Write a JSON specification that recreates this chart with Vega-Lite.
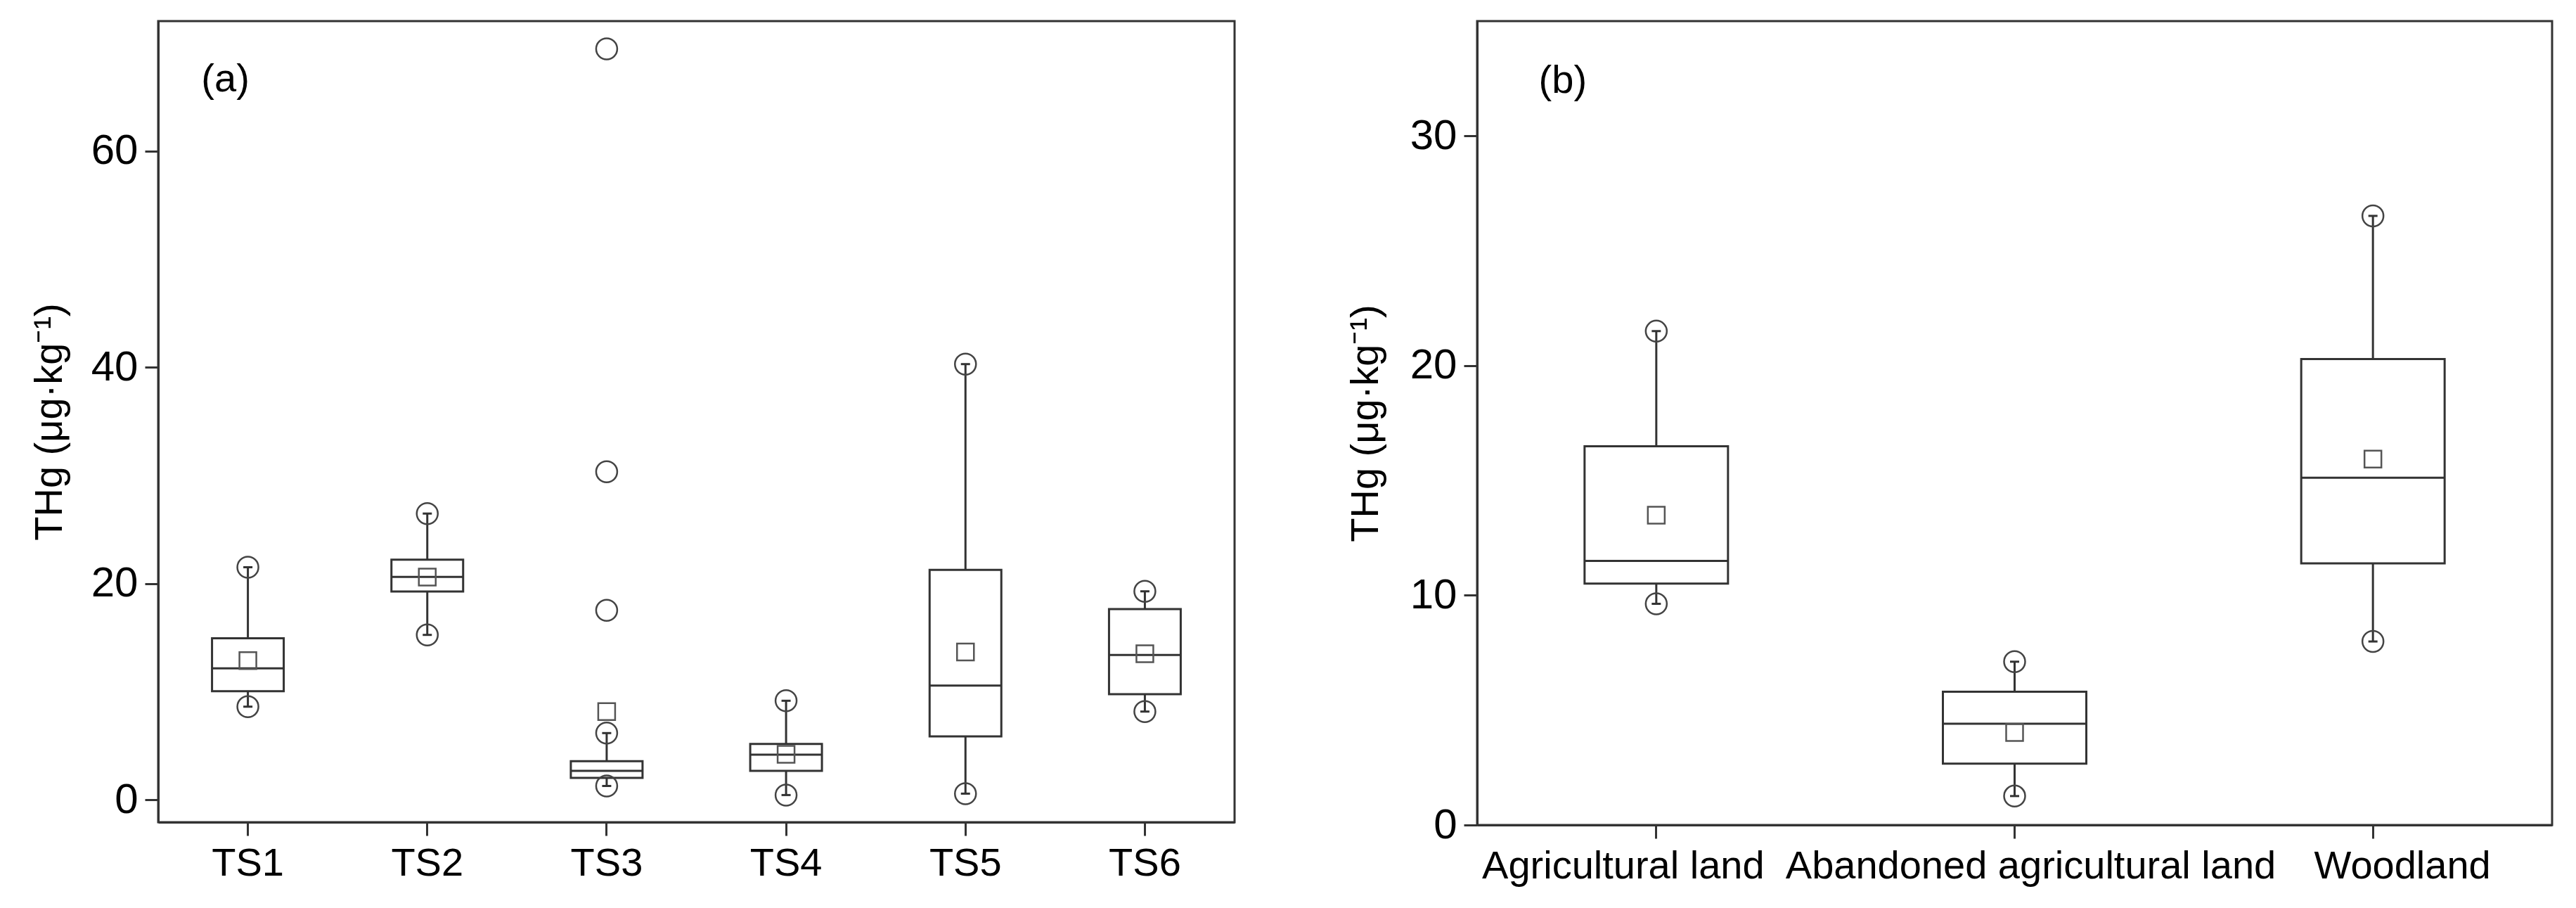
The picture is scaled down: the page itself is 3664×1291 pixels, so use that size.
{
  "$schema": "https://vega.github.io/schema/vega-lite/v6.json",
  "padding": {"left": 40, "top": 28, "right": 0, "bottom": 0},
  "background": "white",
  "spacing": 154,
  "config": {
    "view": {"stroke": "#333", "strokeWidth": 3},
    "font": "Liberation Sans",
    "axis": {
      "grid": false,
      "domainColor": "#333",
      "domainWidth": 3,
      "tickColor": "#333",
      "tickWidth": 3,
      "tickSize": 19,
      "labelFont": "Liberation Sans",
      "labelColor": "black",
      "labelLimit": 0,
      "titleFont": "Liberation Sans",
      "titleColor": "black",
      "titleFontWeight": "normal"
    }
  },
  "datasets": {
    "a": [
      {"cat": "TS1", "min": 8.6, "q1": 10.04, "median": 12.15, "q3": 14.92, "max": 21.5, "mean": 12.86},
      {"cat": "TS2", "min": 15.24, "q1": 19.26, "median": 20.6, "q3": 22.19, "max": 26.46, "mean": 20.59},
      {"cat": "TS3", "min": 1.27, "q1": 2.02, "median": 2.67, "q3": 3.57, "max": 6.16, "mean": 8.15},
      {"cat": "TS4", "min": 0.43, "q1": 2.67, "median": 4.16, "q3": 5.16, "max": 9.15, "mean": 4.2},
      {"cat": "TS5", "min": 0.56, "q1": 5.86, "median": 10.56, "q3": 21.26, "max": 40.28, "mean": 13.66},
      {"cat": "TS6", "min": 8.15, "q1": 9.76, "median": 13.39, "q3": 17.62, "max": 19.27, "mean": 13.5}
    ],
    "a_out": [
      {"cat": "TS3", "value": 17.51},
      {"cat": "TS3", "value": 30.32},
      {"cat": "TS3", "value": 69.43}
    ],
    "a_lab": [{"cat": "TS1", "y": 66.6, "label": "(a)"}],
    "b": [
      {"cat": "Agricultural land", "min": 9.63, "q1": 10.51, "median": 11.5, "q3": 16.49, "max": 21.5, "mean": 13.49},
      {"cat": "Abandoned agricultural land", "min": 1.26, "q1": 2.67, "median": 4.41, "q3": 5.8, "max": 7.11, "mean": 4.03},
      {"cat": "Woodland", "min": 7.99, "q1": 11.39, "median": 15.12, "q3": 20.29, "max": 26.52, "mean": 15.93}
    ],
    "b_lab": [{"cat": "Agricultural land", "y": 32.4, "label": "(b)"}]
  },
  "hconcat": [
    {
      "width": 1531,
      "height": 1139,
      "data": {"name": "a"},
      "encoding": {
        "x": {
          "field": "cat", "type": "nominal",
          "scale": {"type": "band", "domain": ["TS1", "TS2", "TS3", "TS4", "TS5", "TS6"], "paddingInner": 0, "paddingOuter": 0},
          "axis": {"title": null, "labelAngle": 0, "labelFontSize": 56, "labelPadding": 12}
        }
      },
      "layer": [
        {
          "mark": {"type": "rule", "color": "#333", "strokeWidth": 3},
          "encoding": {
            "y": {"field": "min", "type": "quantitative", "scale": {"domain": [-2.08, 72.0], "nice": false, "zero": false},
              "axis": {"values": [0, 20, 40, 60], "title": "THg (μg·kg⁻¹)", "titleFontSize": 56, "titlePadding": 30, "labelFontSize": 60, "labelPadding": 10}},
            "y2": {"field": "q1"}
          }
        },
        {
          "mark": {"type": "rule", "color": "#333", "strokeWidth": 3},
          "encoding": {
            "y": {"field": "q3", "type": "quantitative"},
            "y2": {"field": "max"}
          }
        },
        {
          "mark": {"type": "bar", "size": 102, "fill": "white", "stroke": "#333", "strokeWidth": 3},
          "encoding": {
            "y": {"field": "q1", "type": "quantitative"},
            "y2": {"field": "q3"}
          }
        },
        {
          "mark": {"type": "tick", "size": 102, "thickness": 3, "color": "#333", "opacity": 1},
          "encoding": {"y": {"field": "median", "type": "quantitative"}}
        },
        {
          "mark": {"type": "tick", "size": 13, "thickness": 3, "color": "#333", "opacity": 1},
          "encoding": {"y": {"field": "min", "type": "quantitative"}}
        },
        {
          "mark": {"type": "tick", "size": 13, "thickness": 3, "color": "#333", "opacity": 1},
          "encoding": {"y": {"field": "max", "type": "quantitative"}}
        },
        {
          "mark": {"type": "point", "shape": "circle", "size": 900, "filled": false, "stroke": "#444", "strokeWidth": 2.5, "opacity": 1},
          "encoding": {"y": {"field": "min", "type": "quantitative"}}
        },
        {
          "mark": {"type": "point", "shape": "circle", "size": 900, "filled": false, "stroke": "#444", "strokeWidth": 2.5, "opacity": 1},
          "encoding": {"y": {"field": "max", "type": "quantitative"}}
        },
        {
          "mark": {"type": "point", "shape": "square", "size": 576, "filled": false, "stroke": "#555", "strokeWidth": 2.5, "opacity": 1},
          "encoding": {"y": {"field": "mean", "type": "quantitative"}}
        },
        {
          "data": {"name": "a_out"},
          "mark": {"type": "point", "shape": "circle", "size": 900, "filled": false, "stroke": "#444", "strokeWidth": 2.5, "opacity": 1},
          "encoding": {"y": {"field": "value", "type": "quantitative"}}
        },
        {
          "data": {"name": "a_lab"},
          "mark": {"type": "text", "fontSize": 56, "font": "Liberation Sans", "color": "black", "align": "center", "baseline": "middle", "dx": -32},
          "encoding": {
            "y": {"field": "y", "type": "quantitative"},
            "text": {"field": "label"}
          }
        }
      ]
    },
    {
      "width": 1529,
      "height": 1143,
      "data": {"name": "b"},
      "encoding": {
        "x": {
          "field": "cat", "type": "nominal",
          "scale": {"type": "band", "domain": ["Agricultural land", "Abandoned agricultural land", "Woodland"], "paddingInner": 0, "paddingOuter": 0},
          "axis": {
            "title": null, "labelAngle": 0, "labelFontSize": 56, "labelPadding": 12,
            "labelOffset": {
              "condition": [
                {"test": "datum.value === 'Agricultural land'", "value": -47},
                {"test": "datum.value === 'Woodland'", "value": 42}
              ],
              "value": 23
            }
          }
        }
      },
      "layer": [
        {
          "mark": {"type": "rule", "color": "#333", "strokeWidth": 3},
          "encoding": {
            "y": {"field": "min", "type": "quantitative", "scale": {"domain": [0, 35], "nice": false, "zero": false},
              "axis": {"values": [0, 10, 20, 30], "title": "THg (μg·kg⁻¹)", "titleFontSize": 56, "titlePadding": 34, "labelFontSize": 60, "labelPadding": 10}},
            "y2": {"field": "q1"}
          }
        },
        {
          "mark": {"type": "rule", "color": "#333", "strokeWidth": 3},
          "encoding": {
            "y": {"field": "q3", "type": "quantitative"},
            "y2": {"field": "max"}
          }
        },
        {
          "mark": {"type": "bar", "size": 204, "fill": "white", "stroke": "#333", "strokeWidth": 3},
          "encoding": {
            "y": {"field": "q1", "type": "quantitative"},
            "y2": {"field": "q3"}
          }
        },
        {
          "mark": {"type": "tick", "size": 204, "thickness": 3, "color": "#333", "opacity": 1},
          "encoding": {"y": {"field": "median", "type": "quantitative"}}
        },
        {
          "mark": {"type": "tick", "size": 13, "thickness": 3, "color": "#333", "opacity": 1},
          "encoding": {"y": {"field": "min", "type": "quantitative"}}
        },
        {
          "mark": {"type": "tick", "size": 13, "thickness": 3, "color": "#333", "opacity": 1},
          "encoding": {"y": {"field": "max", "type": "quantitative"}}
        },
        {
          "mark": {"type": "point", "shape": "circle", "size": 900, "filled": false, "stroke": "#444", "strokeWidth": 2.5, "opacity": 1},
          "encoding": {"y": {"field": "min", "type": "quantitative"}}
        },
        {
          "mark": {"type": "point", "shape": "circle", "size": 900, "filled": false, "stroke": "#444", "strokeWidth": 2.5, "opacity": 1},
          "encoding": {"y": {"field": "max", "type": "quantitative"}}
        },
        {
          "mark": {"type": "point", "shape": "square", "size": 576, "filled": false, "stroke": "#555", "strokeWidth": 2.5, "opacity": 1},
          "encoding": {"y": {"field": "mean", "type": "quantitative"}}
        },
        {
          "data": {"name": "b_lab"},
          "mark": {"type": "text", "fontSize": 56, "font": "Liberation Sans", "color": "black", "align": "center", "baseline": "middle", "dx": -133},
          "encoding": {
            "y": {"field": "y", "type": "quantitative"},
            "text": {"field": "label"}
          }
        }
      ]
    }
  ]
}
